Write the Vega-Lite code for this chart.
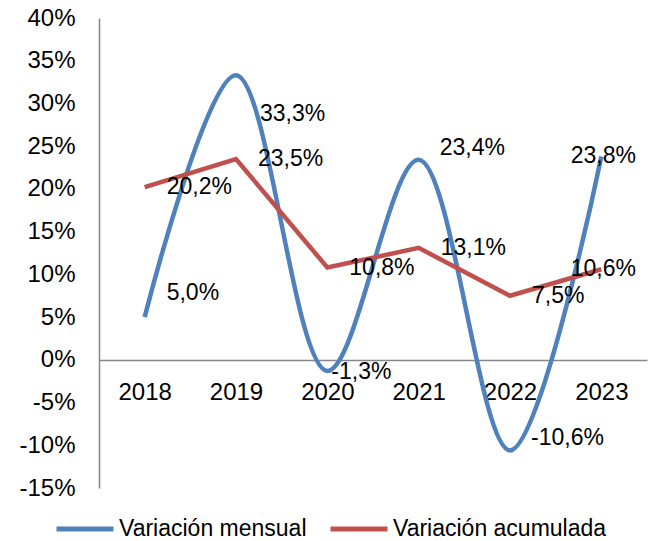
{
  "$schema": "https://vega.github.io/schema/vega-lite/v6.json",
  "width": 548,
  "height": 470,
  "autosize": "none",
  "padding": {"left": 99, "top": 18, "right": 2, "bottom": 53},
  "background": "white",
  "config": {
    "locale": {"number": {"decimal": ",", "thousands": ".", "grouping": [3], "currency": ["", " €"], "minus": "-"}},
    "view": {"stroke": null},
    "font": "Liberation Sans",
    "text": {"fontSize": 23, "color": "black", "baseline": "middle", "align": "left"}
  },
  "data": {
    "values": [
      {"year": "2018", "serie": "Variación mensual", "value": 0.050},
      {"year": "2019", "serie": "Variación mensual", "value": 0.333},
      {"year": "2020", "serie": "Variación mensual", "value": -0.013},
      {"year": "2021", "serie": "Variación mensual", "value": 0.234},
      {"year": "2022", "serie": "Variación mensual", "value": -0.106},
      {"year": "2023", "serie": "Variación mensual", "value": 0.238},
      {"year": "2018", "serie": "Variación acumulada", "value": 0.202},
      {"year": "2019", "serie": "Variación acumulada", "value": 0.235},
      {"year": "2020", "serie": "Variación acumulada", "value": 0.108},
      {"year": "2021", "serie": "Variación acumulada", "value": 0.131},
      {"year": "2022", "serie": "Variación acumulada", "value": 0.075},
      {"year": "2023", "serie": "Variación acumulada", "value": 0.106}
    ]
  },
  "encoding": {
    "x": {
      "field": "year", "type": "ordinal",
      "scale": {"type": "point", "padding": 0.5},
      "axis": {"title": null, "offset": -128, "ticks": false, "domainColor": "#868686", "domainWidth": 1.5,
               "labelFontSize": 24, "labelPadding": 20, "labelAngle": 0, "labelColor": "black", "zindex": 0}
    },
    "y": {
      "field": "value", "type": "quantitative",
      "scale": {"domain": [-0.15, 0.4], "nice": false, "zero": false},
      "axis": {"title": null, "values": [-0.15, -0.1, -0.05, 0, 0.05, 0.1, 0.15, 0.2, 0.25, 0.3, 0.35, 0.4],
               "format": ".0%", "grid": false, "ticks": false, "domainColor": "#868686", "domainWidth": 1.5,
               "labelFontSize": 24, "labelColor": "black", "labelPadding": 24, "zindex": 0}
    }
  },
  "layer": [
    {
      "transform": [{"filter": "datum.serie === 'Variación mensual'"}],
      "mark": {"type": "line", "interpolate": "catmull-rom", "strokeWidth": 4.5},
      "encoding": {
        "color": {
          "field": "serie", "type": "nominal",
          "scale": {"domain": ["Variación mensual", "Variación acumulada"], "range": ["#4F81BD", "#C0504D"]},
          "legend": {"title": null, "orient": "none", "legendX": -45, "legendY": 480, "direction": "horizontal",
                     "symbolType": "stroke", "symbolSize": 3249, "symbolStrokeWidth": 5, "labelFontSize": 23,
                     "labelOffset": 3, "columnPadding": 13, "padding": 0, "labelColor": "black", "labelLimit": 400}
        }
      }
    },
    {
      "transform": [{"filter": "datum.serie === 'Variación acumulada'"}],
      "mark": {"type": "line", "strokeWidth": 4.5},
      "encoding": {
        "color": {"field": "serie", "type": "nominal"}
      }
    },
    {
      "transform": [{"filter": "datum.serie === 'Variación acumulada' && datum.year !== '2023'"}],
      "mark": {"type": "text", "dx": 22},
      "encoding": {"text": {"field": "value", "type": "quantitative", "format": ".1%"}}
    },
    {
      "transform": [{"filter": "datum.year === '2023'"}],
      "mark": {"type": "text", "align": "center", "dx": 2},
      "encoding": {"text": {"field": "value", "type": "quantitative", "format": ".1%"}}
    },
    {
      "transform": [{"filter": "datum.serie === 'Variación mensual' && datum.year === '2018'"}],
      "mark": {"type": "text", "dx": 22, "dy": -24},
      "encoding": {"text": {"field": "value", "type": "quantitative", "format": ".1%"}}
    },
    {
      "transform": [{"filter": "datum.serie === 'Variación mensual' && datum.year === '2019'"}],
      "mark": {"type": "text", "dx": 24, "dy": 39},
      "encoding": {"text": {"field": "value", "type": "quantitative", "format": ".1%"}}
    },
    {
      "transform": [{"filter": "datum.serie === 'Variación mensual' && datum.year === '2020'"}],
      "mark": {"type": "text", "dx": 4, "dy": 1},
      "encoding": {"text": {"field": "value", "type": "quantitative", "format": ".1%"}}
    },
    {
      "transform": [{"filter": "datum.serie === 'Variación mensual' && (datum.year === '2021' || datum.year === '2022')"}],
      "mark": {"type": "text", "dx": 21, "dy": -12},
      "encoding": {"text": {"field": "value", "type": "quantitative", "format": ".1%"}}
    }
  ]
}
